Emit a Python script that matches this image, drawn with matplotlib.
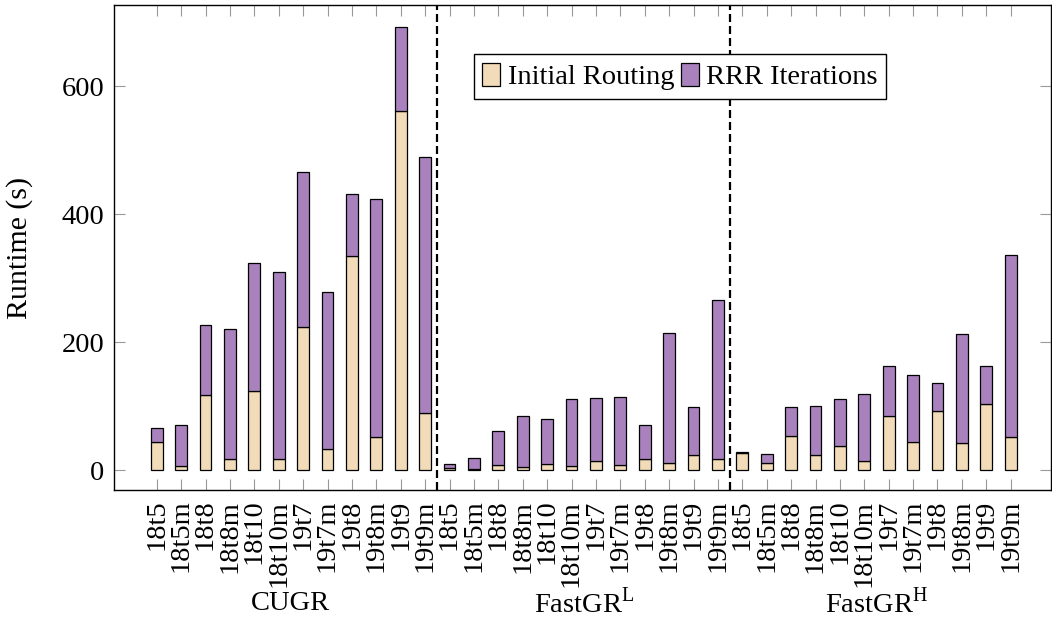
import numpy as np
import matplotlib
matplotlib.use('Agg')
import matplotlib.pyplot as plt

# benchmark names (same for each router)
designs = ['18t5', '18t5m', '18t8', '18t8m', '18t10', '18t10m',
           '19t7', '19t7m', '19t8', '19t8m', '19t9', '19t9m']
routers = ['CUGR', 'FastGR$^{\\mathrm{L}}$', 'FastGR$^{\\mathrm{H}}$']

# runtime (s): initial routing part and total (initial + RRR)
cugr_init = [44, 7, 118, 18, 124, 18, 224, 33, 334, 52, 562, 89]
cugr_total = [66, 70, 227, 220, 324, 310, 466, 279, 431, 424, 692, 490]
fastl_init = [4, 2.5, 8, 5, 10, 6, 15, 8, 17, 11.5, 24, 18]
fastl_total = [9.5, 19, 61.5, 85, 80, 112, 113.5, 114, 70, 214.5, 98.5, 265.5]
fasth_init = [27, 12, 53, 23, 38, 15, 85, 44, 93, 43, 103, 52]
fasth_total = [29, 25.5, 99, 101, 111.5, 119, 163, 149, 136.5, 213, 163.5, 336]

init = np.array(cugr_init + fastl_init + fasth_init, dtype=float)
total = np.array(cugr_total + fastl_total + fasth_total, dtype=float)
rrr = total - init
labels = designs * 3
x = np.arange(len(labels))

plt.rcParams['font.family'] = ['Liberation Serif', 'DejaVu Serif']
plt.rcParams['mathtext.fontset'] = 'custom'
plt.rcParams['mathtext.rm'] = 'Liberation Serif'
plt.rcParams['font.size'] = 20.5

fig = plt.figure(figsize=(10.52, 6.17), dpi=100)
ax = fig.add_axes([0.1084, 0.2058, 0.8906, 0.786])

beige = '#F1DBB8'
purple = '#A981BD'
ax.bar(x, init, width=0.48, color=beige, edgecolor='black', linewidth=0.9,
       label='Initial Routing')
ax.bar(x, rrr, width=0.48, bottom=init, color=purple, edgecolor='black',
       linewidth=0.9, label='RRR Iterations')

# group separators
for sep in [11.5, 23.5]:
    ax.axvline(sep, color='black', linewidth=1.6, linestyle=(0, (3.6, 1.8)))

ax.set_xlim(-1.75, 36.65)
ax.set_ylim(-31, 727)
ax.set_yticks([0, 200, 400, 600])
ax.set_xticks(x)
ax.set_xticklabels(labels, rotation=90)
ax.tick_params(direction='in', length=8, width=0.8, color='#999999',
               top=True, right=True, pad=7)
ax.set_ylabel('Runtime (s)', fontsize=21.5, va='center')
ax.yaxis.set_label_coords(-0.1005, 0.5)

for sp in ax.spines.values():
    sp.set_linewidth(1.0)

# router names under each group
for i, name in enumerate(routers):
    ax.text(i * 12 + 5.5, -0.234, name, transform=ax.get_xaxis_transform(),
            ha='center', va='center', fontsize=20.5)

ax.legend(loc='center', bbox_to_anchor=(0.604, 0.853), ncol=2,
          frameon=True, fancybox=False, edgecolor='black', framealpha=1,
          handlelength=0.62, handleheight=0.86, handletextpad=0.26,
          columnspacing=0.24, borderpad=0.3, fontsize=20.5)

plt.savefig('out.png', dpi=100)
